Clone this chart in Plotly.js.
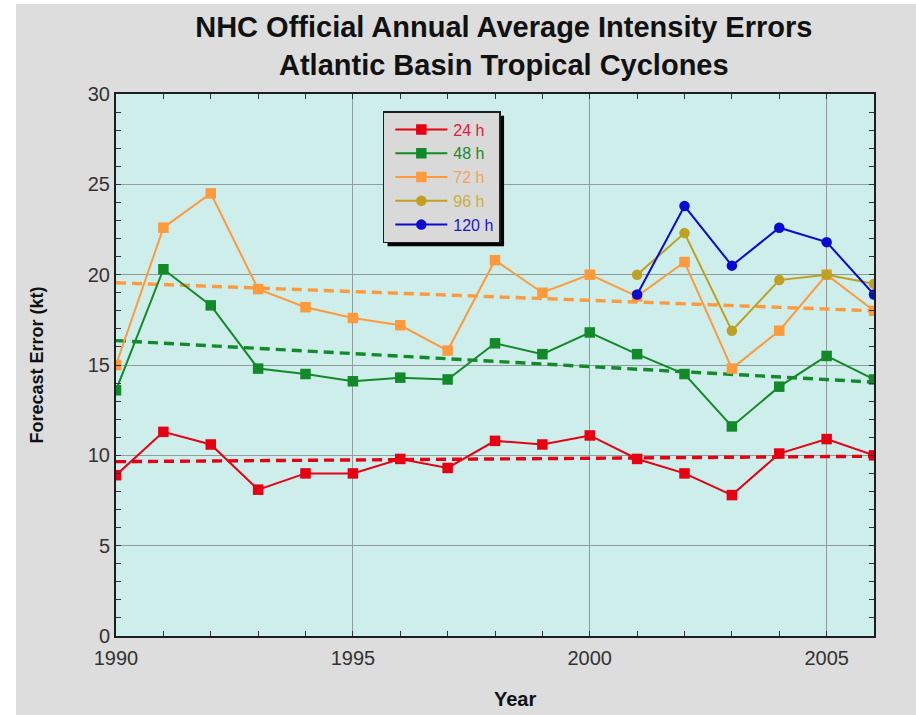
<!DOCTYPE html>
<html>
<head>
<meta charset="utf-8">
<script src="https://cdn.plot.ly/plotly-3.0.1.min.js"></script>
<style>
  html, body { margin: 0; padding: 0; background: #ffffff; }
  #chart { position: absolute; left: 16px; top: 4px; width: 900px; height: 711px; }
</style>
</head>
<body>
<div id="chart"></div>
<script>
// ---- data ----
const years = [1990, 1991, 1992, 1993, 1994, 1995, 1996, 1997, 1998, 1999, 2000, 2001, 2002, 2003, 2004, 2005, 2006];
const err24 = [8.9, 11.3, 10.6, 8.1, 9.0, 9.0, 9.8, 9.3, 10.8, 10.6, 11.1, 9.8, 9.0, 7.8, 10.1, 10.9, 10.0];
const err48 = [13.6, 20.3, 18.3, 14.8, 14.5, 14.1, 14.3, 14.2, 16.2, 15.6, 16.8, 15.6, 14.5, 11.6, 13.8, 15.5, 14.2];
const err72 = [15.0, 22.6, 24.5, 19.2, 18.2, 17.6, 17.2, 15.8, 20.8, 19.0, 20.0, 18.8, 20.7, 14.8, 16.9, 20.0, 18.0];
const yearsLong = [2001, 2002, 2003, 2004, 2005, 2006];
const err96 = [20.0, 22.3, 16.9, 19.7, 20.0, 19.5];
const err120 = [18.9, 23.8, 20.5, 22.6, 21.8, 18.9];
const trendYears = [1990, 2006];
const trend24 = [9.65, 9.95];
const trend48 = [16.35, 14.05];
const trend72 = [19.55, 18.0];
const seriesNames = ['24 h', '48 h', '72 h', '96 h', '120 h'];
const xTickVals = [1990, 1995, 2000, 2005];
const yTickVals = [0, 5, 10, 15, 20, 25, 30];

// ---- styles ----
const colors = ['#e60012', '#138a2a', '#ff9a3c', '#bfa020', '#0a0ad0'];
const legendText = ['#e0203a', '#1d8a2e', '#f7a25a', '#c8b040', '#1a1ac0'];
const FONT = '"Liberation Sans", Arial, sans-serif';

function series(x, y, i, symbol) {
  return {
    x: x, y: y, type: 'scatter', mode: 'lines+markers',
    name: '<span style="color:' + legendText[i] + '">' + seriesNames[i] + '</span>',
    line: { color: colors[i], width: 2 },
    marker: { color: colors[i], size: 10.5, symbol: symbol }
  };
}
function trend(y, i) {
  return {
    x: trendYears, y: y, type: 'scatter', mode: 'lines',
    showlegend: false, hoverinfo: 'skip',
    line: { color: colors[i], width: 3.4, dash: '10px,6px' }
  };
}

const data = [
  trend(trend24, 0), trend(trend48, 1), trend(trend72, 2),
  series(years, err24, 0, 'square'),
  series(years, err48, 1, 'square'),
  series(years, err72, 2, 'square'),
  series(yearsLong, err96, 3, 'circle'),
  series(yearsLong, err120, 4, 'circle')
];

const axisCommon = {
  showline: true, linecolor: '#1e1e1e', linewidth: 2,
  showgrid: true, gridcolor: '#8e9c9c', gridwidth: 1,
  zeroline: false, ticks: 'inside', ticklen: 5, tickwidth: 1, tickcolor: '#333',
  mirror: 'ticks',
  tickfont: { family: FONT, size: 20, color: '#333' },
  minor: { dtick: 1, ticks: 'inside', ticklen: 5, tickwidth: 1, tickcolor: '#333', showgrid: false }
};

const layout = {
  width: 900, height: 711,
  paper_bgcolor: '#dcdddc', plot_bgcolor: '#cdeeea',
  margin: { l: 100, r: 42, t: 90, b: 79 },
  font: { family: FONT, color: '#222' },
  title: {
    text: '<b>NHC Official Annual Average Intensity Errors<br>Atlantic Basin Tropical Cyclones</b>',
    font: { family: FONT, size: 29, color: '#111' },
    xref: 'container', x: 0.542, xanchor: 'center',
    yref: 'container', y: 0.953, yanchor: 'top'
  },
  xaxis: Object.assign({}, axisCommon, {
    range: [1990, 2006], tickvals: xTickVals, ticklabelstandoff: 3,
    minor: Object.assign({}, axisCommon.minor, { tick0: 1990 })
  }),
  yaxis: Object.assign({}, axisCommon, {
    range: [0, 30], tickvals: yTickVals,
    title: { text: '<b>Forecast Error (kt)</b>', font: { family: FONT, size: 18, color: '#111' }, standoff: 39 }
  }),
  yaxis2: {
    overlaying: 'y', side: 'right', range: [0, 30], tickvals: yTickVals,
    showgrid: false, showline: false, zeroline: false, ticks: '', ticklabelstandoff: 4,
    tickfont: { family: FONT, size: 20, color: '#333' }
  },
  annotations: [{
    text: '<b>Year</b>', xref: 'paper', yref: 'paper', x: 0.526, y: -0.116,
    xanchor: 'center', yanchor: 'middle', showarrow: false,
    font: { family: FONT, size: 20, color: '#111' }
  }],
  legend: {
    x: 0.352, y: 0.9686, xanchor: 'left', yanchor: 'top',
    bgcolor: '#d9d9d9', bordercolor: '#1e1e1e', borderwidth: 1.5,
    itemwidth: 59,
    font: { family: FONT, size: 16 }
  },
  showlegend: true
};

function tweakLegend(gd) {
  // longer line samples with the marker centred on them
  gd.querySelectorAll('.legend .legendlines path').forEach(function (p) {
    p.setAttribute('d', 'M11,0h52');
  });
  gd.querySelectorAll('.legend .legendpoints path').forEach(function (p) {
    p.setAttribute('transform', 'translate(37,0)');
  });
}

Plotly.newPlot('chart', data, layout, { displayModeBar: false, staticPlot: true }).then(function (gd) {
  const bg = gd.querySelector('.legend .bg');
  if (!bg) return;
  const r = bg.getBoundingClientRect();
  const c = gd.getBoundingClientRect();
  const s = gd._fullLayout._size;
  const toX = function (px) { return (px - c.left - s.l) / s.w; };
  const toY = function (py) { return 1 - (py - c.top - s.t) / s.h; };
  return Plotly.relayout(gd, {
    shapes: [{
      type: 'rect', xref: 'paper', yref: 'paper', layer: 'above',
      x0: toX(r.left + 4), x1: toX(r.right + 4), y0: toY(r.bottom + 4), y1: toY(r.top + 4),
      fillcolor: '#000', line: { width: 0 }
    }]
  }).then(function () { tweakLegend(gd); });
});
</script>
</body>
</html>
